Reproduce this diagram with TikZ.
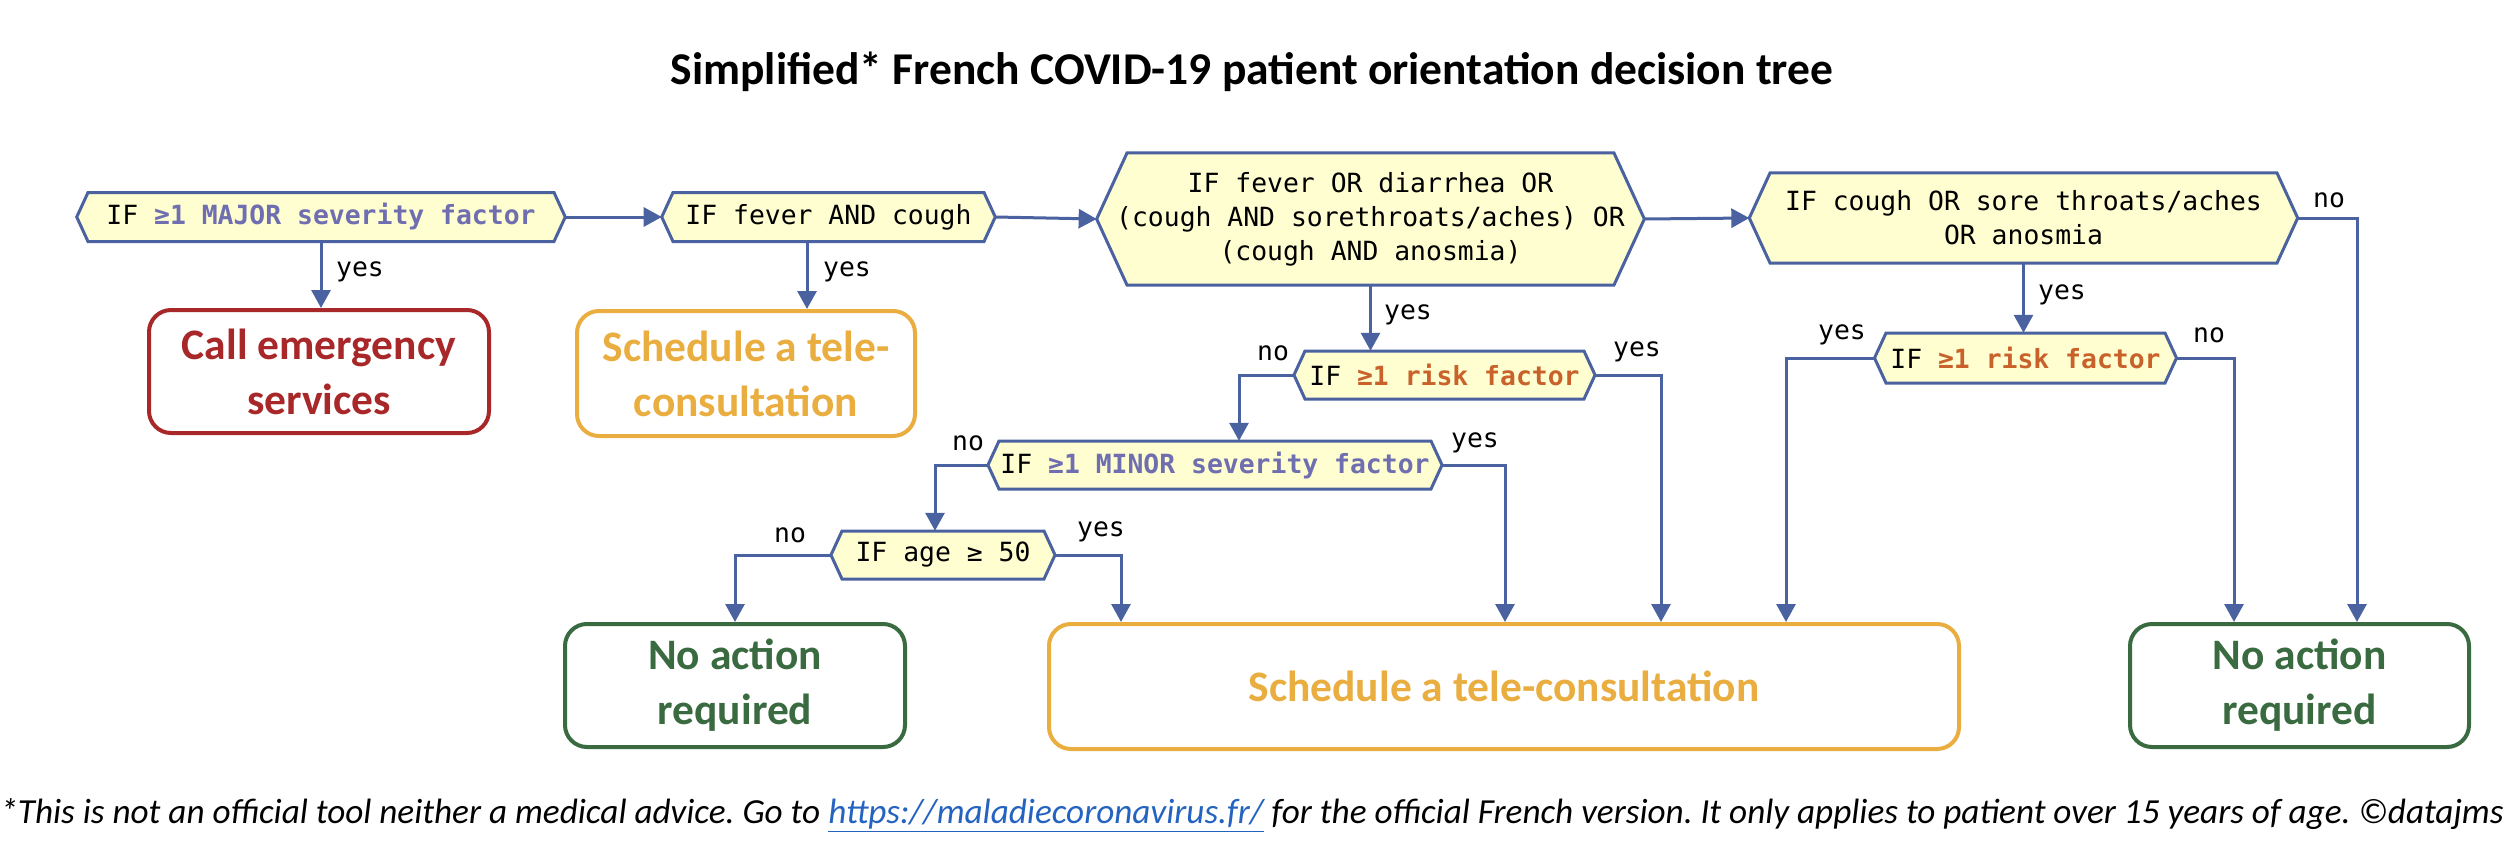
\documentclass[tikz,border=0pt]{standalone}
\usepackage{fontspec}
\setmainfont{Carlito}
\newfontfamily\monofont{DejaVu Sans Mono}
\usetikzlibrary{arrows.meta}
\definecolor{lineblue}{HTML}{4A62A0}
\definecolor{hexfill}{HTML}{FEFED0}
\definecolor{minorpurple}{HTML}{6E6EB0}
\definecolor{riskbrown}{HTML}{C8622A}
\definecolor{callred}{HTML}{A8282A}
\definecolor{schedorange}{HTML}{E9AE3F}
\definecolor{okgreen}{HTML}{3A6B40}
\definecolor{linkblue}{HTML}{2563C0}
\newcommand\hexnode[6]{%
  \filldraw[hexshape] ({#2-#4/2},{#3-#5/2}) -- ({#2+#4/2},{#3-#5/2}) -- ({#2+#4/2+0.23*#5},#3) -- ({#2+#4/2},{#3+#5/2}) -- ({#2-#4/2},{#3+#5/2}) -- ({#2-#4/2-0.23*#5},#3) -- cycle;
  \node[hextext,minimum width=#4pt,minimum height=#5pt] (#1) at (#2,#3) {#6};
  \coordinate (#1-l) at ({#2-#4/2-0.23*#5},#3);
  \coordinate (#1-r) at ({#2+#4/2+0.23*#5},#3);
}
\newcommand\hlp[1]{\textcolor{minorpurple}{\bfseries #1}}
\newcommand\hlr[1]{\textcolor{riskbrown}{\bfseries #1}}
\frenchspacing
\begin{document}
\begin{tikzpicture}[x=1pt,y=-1pt,
  hexshape/.style={draw=lineblue,fill=hexfill,line width=3pt,line join=miter},
  hextext/.style={inner sep=0pt,align=center,font=\monofont\fontsize{26.4}{34}\selectfont},
  conn/.style={draw=lineblue,line width=3pt,-{Triangle[width=19pt,length=18pt]}},
  lbl/.style={inner sep=0pt,font=\monofont\fontsize{26.4}{30}\selectfont},
  outbox/.style={line width=4pt,rounded corners=22pt,align=center,inner sep=0pt,
    font=\bfseries\fontsize{43.5}{55}\selectfont},
  titlestyle/.style={inner sep=0pt,font=\bfseries\fontsize{45.5}{50}\selectfont},
  footstyle/.style={inner sep=0pt,font=\itshape\fontsize{35.2}{40}\selectfont}]
\useasboundingbox (0,0) rectangle (2504,856);
\fill[white] (0,0) rectangle (2504,856);

\node[titlestyle] (title) at (1252,72) {Simplified* French COVID-19 patient orientation decision tree};

\hexnode{A}{321}{217}{466}{49}{IF \hlp{≥1 MAJOR severity factor}}
\hexnode{B}{828.5}{217}{311}{49}{IF fever AND cough}
\hexnode{C}{1370.5}{219}{487}{132}{IF fever OR diarrhea OR\\(cough AND sorethroats/aches) OR\\(cough AND anosmia)}
\hexnode{D}{2023.5}{218}{507}{90}{IF cough OR sore throats/aches\\OR anosmia}
\hexnode{E}{1444.5}{375}{279}{48}{IF \hlr{≥1 risk factor}}
\hexnode{F}{1215}{465}{432}{48}{IF \hlp{≥1 MINOR severity factor}}
\hexnode{G}{2025.5}{358}{279}{50}{IF \hlr{≥1 risk factor}}
\hexnode{H}{943}{555}{202}{48}{IF age ≥ 50}

\node[outbox,draw=callred,text=callred,minimum width=340pt,minimum height=123pt] (call) at (319,371.5) {Call emergency\\services};
\node[outbox,draw=schedorange,text=schedorange,minimum width=338pt,minimum height=125pt] (sched1) at (746,373.5) {Schedule a tele-\\consultation};
\node[outbox,draw=okgreen,text=okgreen,minimum width=340pt,minimum height=123pt] (noact1) at (735,685.5) {No action\\required};
\node[outbox,draw=schedorange,text=schedorange,minimum width=910pt,minimum height=125pt] (big) at (1504,686.5) {Schedule a tele-consultation};
\node[outbox,draw=okgreen,text=okgreen,minimum width=339pt,minimum height=123pt] (noact2) at (2299.5,685.5) {No action\\required};

\draw[conn] (A-r) -- (B-l);
\draw[conn] (B-r) -- (C-l);
\draw[conn] (C-r) -- (D-l);
\draw[conn] (A.south) -- (A.south |- call.north);
\draw[conn] ([xshift=-21.5pt]B.south) -- ([xshift=-21.5pt]B.south |- sched1.north);
\draw[conn] (C.south) -- (C.south |- E.north);
\draw[conn] (E-l) -| ([xshift=24pt]F.north);
\draw[conn] (E-r) -| ([xshift=157pt]big.north);
\draw[conn] (F-l) -| ([xshift=-8pt]H.north);
\draw[conn] (F-r) -| ([xshift=1pt]big.north);
\draw[conn] (H-l) -| (noact1.north);
\draw[conn] (H-r) -| ([xshift=-383pt]big.north);
\draw[conn] (D.south) -- (D.south |- G.north);
\draw[conn] (G-l) -| ([xshift=282pt]big.north);
\draw[conn] (G-r) -| ([xshift=-65.5pt]noact2.north);
\draw[conn] (D-r) -| ([xshift=57.5pt]noact2.north);

\node[lbl] (l1) at (360,272) {yes};
\node[lbl] (l2) at (847,272) {yes};
\node[lbl] (l3) at (1408,315) {yes};
\node[lbl] (l4) at (1273,353) {no};
\node[lbl] (l5) at (1637,352) {yes};
\node[lbl] (l6) at (968,443) {no};
\node[lbl] (l7) at (1475,443) {yes};
\node[lbl] (l8) at (790,535) {no};
\node[lbl] (l9) at (1101,532) {yes};
\node[lbl] (l10) at (2062,295) {yes};
\node[lbl] (l11) at (1842,335) {yes};
\node[lbl] (l12) at (2209,335) {no};
\node[lbl] (l13) at (2329,200) {no};

\node[footstyle] (foot) at (1252,815) {*This is not an official tool neither a medical advice. Go to \textcolor{linkblue}{\underline{https://maladiecoronavirus.fr/}} for the official French version. It only applies to patient over 15 years of age. ©datajms};
\end{tikzpicture}
\end{document}
